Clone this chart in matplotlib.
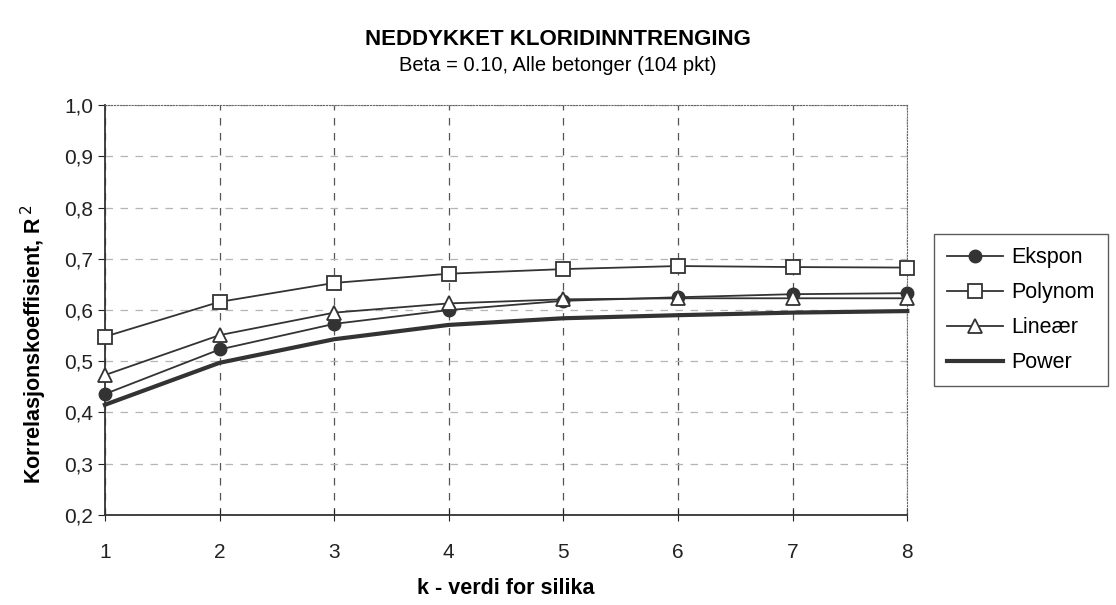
import numpy as np
import matplotlib.pyplot as plt

plt.rcParams['font.family'] = ['Liberation Sans', 'DejaVu Sans']

k = [1, 2, 3, 4, 5, 6, 7, 8]
ekspon = [0.436, 0.523, 0.573, 0.600, 0.618, 0.625, 0.631, 0.633]
polynom = [0.548, 0.616, 0.653, 0.671, 0.680, 0.686, 0.684, 0.683]
lineaer = [0.473, 0.551, 0.595, 0.613, 0.621, 0.623, 0.623, 0.623]
power = [0.415, 0.497, 0.543, 0.571, 0.584, 0.590, 0.595, 0.598]
yticks = [0.2, 0.3, 0.4, 0.5, 0.6, 0.7, 0.8, 0.9, 1.0]

fig = plt.figure(figsize=(11.16, 6.05), dpi=100)
ax = fig.add_axes([0.094, 0.149, 0.719, 0.677])

c = '#333333'
ax.plot(k, ekspon, color=c, lw=1.3, marker='o', ms=9, mfc=c, mec=c, label='Ekspon', clip_on=False, zorder=4)
ax.plot(k, polynom, color=c, lw=1.3, marker='s', ms=10, mfc='white', mec=c, mew=1.3, label='Polynom', clip_on=False, zorder=4)
ax.plot(k, lineaer, color=c, lw=1.3, marker='^', ms=10, mfc='white', mec=c, mew=1.3, label='Lineær', clip_on=False, zorder=4)
ax.plot(k, power, color=c, lw=3.0, label='Power', clip_on=False, zorder=3)

ax.set_xlim(1, 8)
ax.set_ylim(0.2, 1.0)
ax.set_xticks(k)
ax.set_yticks(yticks)
ax.set_yticklabels([f'{v:.1f}'.replace('.', ',') for v in yticks])
ax.tick_params(axis='both', labelsize=15, colors='#222222', direction='out', length=5)
ax.tick_params(axis='x', direction='inout', length=8, pad=16)
ax.xaxis.grid(True, linestyle=(0, (6, 6)), color='#555555', lw=0.9)
ax.yaxis.grid(True, linestyle=(0, (6, 6)), color='#b5b5b5', lw=0.9)

for s in ['top', 'right']:
    ax.spines[s].set_linestyle(':')
    ax.spines[s].set_color('#666666')
for s in ['left', 'bottom']:
    ax.spines[s].set_color('#333333')
    ax.spines[s].set_linewidth(1.3)

ax.set_xlabel('k - verdi for silika', fontsize=15.5, fontweight='bold', labelpad=12)
ax.set_ylabel('Korrelasjonskoeffisient, R$^{\\,2}$', fontsize=15.5, fontweight='bold')
ax.yaxis.set_label_coords(-0.07, 0.415)

fig.text(0.5, 0.925, 'NEDDYKKET KLORIDINNTRENGING', ha='center', fontsize=16, fontweight='bold')
fig.text(0.5, 0.882, 'Beta = 0.10, Alle betonger (104 pkt)', ha='center', fontsize=14.5)

leg = ax.legend(loc='center left', bbox_to_anchor=(1.02, 0.5), fontsize=15.5, frameon=True,
                fancybox=False, edgecolor='#333333', handlelength=2.6, borderpad=0.6,
                labelspacing=0.65, handletextpad=0.4)
leg.get_frame().set_linewidth(1.0)

fig.savefig('out.png', dpi=100)
